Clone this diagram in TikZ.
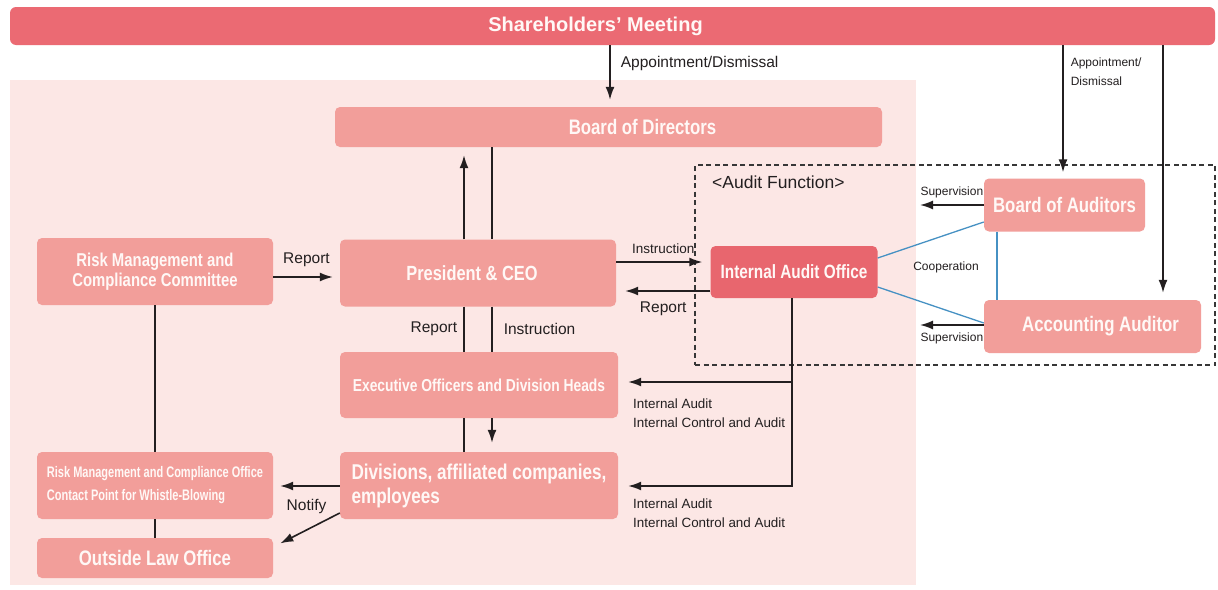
\documentclass[tikz,border=0pt]{standalone}
\usepackage{fontspec}
\setmainfont{Liberation Sans}
\newfontfamily\cond[FakeStretch=0.8]{Liberation Sans}
\newfontfamily\xcond[FakeStretch=0.72]{Liberation Sans}
\usetikzlibrary{arrows.meta,calc}
\definecolor{shcol}{RGB}{235,106,115}
\definecolor{boxcol}{RGB}{242,158,154}
\definecolor{iaocol}{RGB}{232,102,110}
\definecolor{panelcol}{RGB}{252,231,229}
\definecolor{txtw}{RGB}{255,248,246}
\definecolor{ink}{RGB}{35,31,32}
\definecolor{coopcol}{RGB}{70,145,195}
\definecolor{dashcol}{RGB}{55,55,55}
\begin{document}
\begin{tikzpicture}[x=1pt,y=-1pt,
  box/.style={fill=boxcol, rounded corners=5pt, draw=none, text=txtw, inner sep=0pt, anchor=center,
              font=\cond\bfseries\fontsize{21}{24}\selectfont},
  arr/.style={draw=ink, line width=1.6pt, -{Latex[length=13pt,width=9pt]}},
  ln/.style={draw=ink, line width=1.6pt},
  lbl/.style={text=ink, inner sep=0pt, font=\fontsize{15.5}{18}\selectfont},
  small/.style={text=ink, inner sep=0pt, font=\fontsize{12}{15}\selectfont},
  mid/.style={text=ink, inner sep=0pt, align=left, font=\fontsize{13.4}{18.5}\selectfont},
  coopln/.style={draw=coopcol, line width=1.3pt}]
\useasboundingbox (0,0) rectangle (1218,589);
\fill[white] (0,0) rectangle (1218,589);
% pink company panel
\fill[panelcol] (10,80) rectangle (916,585);

% column / row helper coordinates
\coordinate (xa) at (610,0);
\coordinate (xb) at (1063,0);
\coordinate (xc) at (1163,0);
\coordinate (xr) at (464,0);
\coordinate (xi) at (492,0);
\coordinate (xo) at (792,0);
\coordinate (xs) at (920,0);
\coordinate (xv) at (997,0);
\coordinate (yrep) at (0,277);
\coordinate (yins) at (0,262);
\coordinate (yrp2) at (0,291);
\coordinate (yex) at (0,382);
\coordinate (ydv) at (0,486);
\coordinate (ynt) at (0,513);
\coordinate (ylw) at (0,547);
\coordinate (ysl) at (0,325);
\coordinate (yc1) at (0,258);
\coordinate (yc2) at (0,222);
\coordinate (yc3) at (0,287);
\coordinate (yc4) at (0,323);

% boxes
\node[box, fill=shcol, rounded corners=6pt, minimum width=1205pt, minimum height=38pt,
      font=\bfseries\fontsize{20}{24}\selectfont] (sh) at (612.5,26) {Shareholders' Meeting\hspace*{34pt}};
\node[box, minimum width=547pt, minimum height=40pt] (bod) at (608.5,127) {\hspace*{68pt}Board of Directors};
\node[box, minimum width=236pt, minimum height=67pt, align=center,
      font=\cond\bfseries\fontsize{18.6}{20.5}\selectfont] (rmcc) at (155,271.5) {Risk Management and\\Compliance Committee};
\node[box, minimum width=276pt, minimum height=67pt, font=\cond\bfseries\fontsize{20.5}{22}\selectfont] (ceo) at (478,273) {President \& CEO\hspace*{12pt}};
\node[box, minimum width=278pt, minimum height=66pt, font=\cond\bfseries\fontsize{17.3}{19}\selectfont] (exec) at (479,385) {Executive Officers and Division Heads};
\node[box, minimum width=278pt, minimum height=67pt, align=left,
      font=\cond\bfseries\fontsize{21.4}{24}\selectfont] (div) at (479,485.5) {Divisions, affiliated companies,\\employees};
\node[box, minimum width=236pt, minimum height=67pt, align=left,
      font=\xcond\bfseries\fontsize{15.3}{23}\selectfont] (wb) at (155,485.5) {Risk Management and Compliance Office\\Contact Point for Whistle-Blowing};
\node[box, minimum width=236pt, minimum height=40pt] (law) at (155,558) {Outside Law Office};
\node[box, fill=iaocol, minimum width=167pt, minimum height=52pt, font=\cond\bfseries\fontsize{19.2}{21}\selectfont] (iao) at (794,272) {Internal Audit Office};
\node[box, minimum width=161pt, minimum height=53pt] (boa) at (1064.5,205) {Board of Auditors};
\node[box, minimum width=217pt, minimum height=53pt] (acc) at (1092.5,326.5) {\hspace*{16pt}Accounting Auditor};

% audit function frame
\node[draw=dashcol, line width=1.4pt, dash pattern=on 5pt off 3.5pt, minimum width=520pt, minimum height=200pt,
      inner sep=0pt] (audfn) at (955,265) {};
\node[text=ink, anchor=west, inner sep=0pt, font=\fontsize{17.5}{20}\selectfont] (aflabel) at (712,182) {<Audit Function>};

% shareholders appointments
\draw[arr, shorten >=7pt] (xa |- sh.south) -- (xa |- bod.north)
  node[lbl, pos=0.3, anchor=west, xshift=10pt]{Appointment/Dismissal};
\draw[arr, shorten >=6pt] (xb |- sh.south) -- (xb |- boa.north)
  node[small, pos=0.2, anchor=west, xshift=7pt, align=left, font=\fontsize{12}{19}\selectfont]{Appointment/\\Dismissal};
\draw[arr, shorten >=7pt] (xc |- sh.south) -- (xc |- acc.north);

% CEO <-> Board of Directors
\draw[arr, shorten >=8pt] (xr |- ceo.north) -- (xr |- bod.south);
\draw[ln] (xi |- bod.south) -- (xi |- ceo.north);
\draw[ln] (xr |- ceo.south) -- (xr |- exec.north) node[lbl, midway, anchor=east, xshift=-6pt]{Report};
\draw[ln] (xi |- ceo.south) -- (xi |- exec.north) node[lbl, midway, anchor=west, xshift=11pt]{Instruction};
\draw[ln] (xr |- exec.south) -- (xr |- div.north);
\draw[arr, shorten >=9pt] (xi |- exec.south) -- (xi |- div.north);

% committee report
\draw[arr, shorten >=7pt] (rmcc.east |- yrep) -- (ceo.west |- yrep) node[lbl, midway, above=9pt]{Report};

% CEO <-> internal audit office
\draw[arr, shorten >=8pt] (ceo.east |- yins) -- (iao.west |- yins)
  node[mid, midway, above=8pt, font=\fontsize{13.5}{16}\selectfont]{Instruction};
\draw[arr, shorten >=9pt] (iao.west |- yrp2) -- (ceo.east |- yrp2)
  node[lbl, midway, below=10pt]{Report};

% internal audit lines
\draw[arr, shorten >=10pt] (xo |- iao.south) -- (xo |- ydv) -- (div.east |- ydv);
\draw[arr, shorten >=10pt] (xo |- yex) -- (exec.east |- yex);
\node[mid, anchor=north west] (ia1) at (633,399) {Internal Audit\\Internal Control and Audit};
\node[mid, anchor=north west] (ia2) at (633,499) {Internal Audit\\Internal Control and Audit};

% supervision
\draw[arr] (boa.west) -- (xs |- boa.west) node[small, midway, above=6pt]{Supervision};
\draw[arr] (acc.west |- ysl) -- (xs |- ysl) node[small, midway, below=7pt]{Supervision};

% cooperation
\draw[coopln] (iao.east |- yc1) -- (boa.west |- yc2);
\draw[coopln] (iao.east |- yc3) -- (acc.west |- yc4);
\draw[coopln] (xv |- boa.south) -- (xv |- acc.north);
\node[small] (coop) at (946,267) {Cooperation};

% compliance line and whistle-blowing
\draw[ln] (rmcc.south) -- (wb.north);
\draw[ln] (wb.south) -- (law.north);
\draw[arr, shorten >=7pt] (div.west |- ydv) -- (wb.east |- ydv) node[lbl, midway, below=12pt]{Notify};
\draw[arr, shorten >=8pt] (div.west |- ynt) -- (law.east |- ylw);
\end{tikzpicture}
\end{document}
